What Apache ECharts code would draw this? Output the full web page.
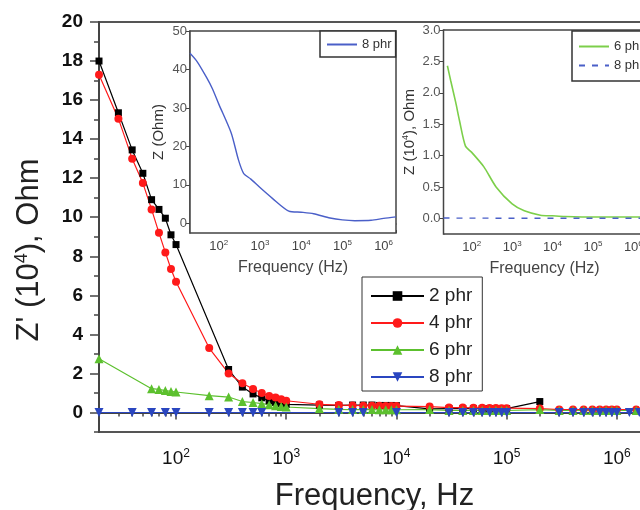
<!DOCTYPE html>
<html><head><meta charset="utf-8">
<script src="https://cdn.jsdelivr.net/npm/echarts@6/dist/echarts.min.js"></script>
<style>html,body{margin:0;padding:0;background:#fff}#c{width:640px;height:510px}</style>
</head><body><div id="c"></div><script>
// ---- main plot data (Z' in 10^4 Ohm vs frequency in Hz) ----
const freq2 = [20,30,40,50,60,70,80,90,100,300,400,500,600,700,800,900,1000,2000,3000,4000,5000,6000,7000,8000,9000,10000,20000,30000,40000,50000,60000,70000,80000,90000,100000,200000];
const z2 = [18.0,15.35,13.45,12.25,10.9,10.4,9.95,9.1,8.6,2.2,1.3,0.95,0.75,0.6,0.52,0.46,0.42,0.38,0.36,0.38,0.38,0.38,0.36,0.36,0.36,0.35,0.18,0.2,0.2,0.2,0.2,0.2,0.2,0.2,0.2,0.56];
const freq4 = [20,30,40,50,60,70,80,90,100,200,300,400,500,600,700,800,900,1000,2000,3000,4000,5000,6000,7000,8000,9000,10000,20000,30000,40000,50000,60000,70000,80000,90000,100000,200000,300000,400000,500000,600000,700000,800000,900000,1000000,1500000,2000000];
const z4 = [17.3,15.05,13.0,11.75,10.4,9.2,8.2,7.35,6.7,3.3,2.0,1.5,1.2,1.0,0.85,0.77,0.68,0.6,0.42,0.38,0.36,0.35,0.34,0.34,0.33,0.33,0.33,0.3,0.25,0.25,0.24,0.24,0.23,0.23,0.22,0.22,0.2,0.15,0.15,0.15,0.15,0.15,0.15,0.15,0.15,0.15,0.15];
const freq6 = [20,60,70,80,90,100,200,300,400,500,600,700,800,900,1000,2000,3000,4000,5000,6000,7000,8000,9000,10000,20000,30000,40000,50000,60000,70000,80000,90000,100000,200000,300000,400000,500000,600000,700000,800000,900000,1000000,1500000,2000000];
const z6 = [2.75,1.22,1.18,1.12,1.08,1.05,0.86,0.79,0.56,0.51,0.45,0.4,0.35,0.31,0.28,0.2,0.16,0.15,0.15,0.15,0.14,0.14,0.14,0.14,0.15,0.1,0.1,0.1,0.1,0.1,0.1,0.1,0.1,0.15,0.1,0.1,0.1,0.1,0.1,0.1,0.1,0.1,0.1,0.1];
const freq8 = [20,40,60,80,100,200,300,400,500,600,3000,4000,5000,10000,30000,40000,50000,60000,70000,80000,90000,100000,300000,400000,500000,600000,700000,800000,900000,1000000,1300000,1600000,2000000];
const z8 = [0,0,0,0,0,0,0,0,0,0,0,0,0,0,0,0,0,0,0,0,0,0,0,0,0,0,0,0,0,0,0,0,0];
const seriesNames = ['2 phr','4 phr','6 phr','8 phr'];

// ---- inset 1: 8 phr, Z in Ohm ----
const freqIn1 = [20,30,50,70,100,200,300,400,600,1000,2000,5000,10000,20000,50000,100000,200000,500000,1000000,2000000];
const zIn1 = [44.2,42,38,35,31,23.5,16.5,13,11.5,9.3,6.5,3.2,2.9,2.5,1.4,0.9,0.7,0.8,1.3,1.7];

// ---- inset 2: 6 phr and 8 phr, Z in 10^4 Ohm ----
const freqIn2g = [25,30,40,50,70,100,200,400,1000,2000,5000,10000,20000,100000,1000000,2000000];
const zIn2g = [2.43,2.2,1.85,1.55,1.15,1.05,0.82,0.5,0.23,0.12,0.05,0.04,0.03,0.02,0.02,0.02];
const freqIn2b = [20,100,1000,10000,100000,1000000,2000000];
const zIn2b = [0.004,0.003,0.001,0.0003,0.0001,0.0001,0.0002];

// ---- tick labels ----
const xMajor = [100,1000,10000,100000,1000000];
const yMainLabels = [0,2,4,6,8,10,12,14,16,18,20];
const yMainMinor = [-1,1,3,5,7,9,11,13,15,17,19];
const yIn1Labels = [0,10,20,30,40,50];
const yIn2Labels = [0,0.5,1,1.5,2,2.5,3];

const xMinor = [];
for (let d = 10; d <= 1000000; d *= 10) for (let k = 2; k <= 9; k++) { const v = k*d; if (v >= 20 && v <= 2000000) xMinor.push(v); }
xMinor.push(2000000);

const pairs = (f, z) => f.map((x, i) => [x, z[i]]);
const expFmt = v => '{b|10}{s|' + Math.round(Math.log10(v)) + '}';

const AX = '#444';
const NARROW = '"Liberation Sans Narrow","Liberation Sans",Arial,sans-serif';
const SANS = '"Liberation Sans",Arial,sans-serif';

function logX(grid, major, opts) {
  const o = opts;
  return [{
    type: 'log', gridIndex: grid, min: 20, max: 2000000, position: 'bottom',
    axisLine: {show: true, lineStyle: {color: AX, width: o.lw}},
    splitLine: {show: false},
    axisTick: {show: true, inside: o.inside, length: o.major, customValues: major, lineStyle: {color: AX, width: o.tw}},
    axisLabel: {show: true, customValues: major, formatter: expFmt, margin: o.margin,
      rich: {b: {fontSize: o.fs, fontFamily: o.ff, color: o.color},
             s: {fontSize: o.sfs, fontFamily: o.ff, color: o.color, padding: [0, 0, o.sup, 0]}}},
    name: o.name, nameLocation: 'middle', nameGap: o.nameGap,
    nameTextStyle: {fontSize: o.nfs, fontFamily: o.nff, color: o.ncolor}
  }, {
    type: 'log', gridIndex: grid, min: 20, max: 2000000, position: 'bottom',
    axisLine: {show: false}, splitLine: {show: false}, axisLabel: {show: false},
    axisTick: {show: true, inside: o.inside, length: o.minor, customValues: xMinor, lineStyle: {color: AX, width: o.tw}}
  }];
}

const chart = echarts.init(document.getElementById('c'), null, {renderer: 'canvas'});
const xAxes = [].concat(
  logX(0, xMajor, {lw: 2, tw: 1.5, inside: false, major: 7, minor: 4, margin: 16, fs: 19, sfs: 12, sup: 10, ff: SANS, color: '#111',
    name: 'Frequency, Hz', nameGap: 49, nfs: 31, nff: SANS, ncolor: '#222'}),
  logX(1, xMajor, {lw: 1.5, tw: 1, inside: true, major: 5, minor: 3, margin: 6, fs: 13, sfs: 8, sup: 7, ff: NARROW, color: '#444',
    name: 'Frequency (Hz)', nameGap: 27, nfs: 16, nff: NARROW, ncolor: '#444'}),
  logX(2, xMajor, {lw: 1.5, tw: 1, inside: true, major: 5, minor: 3, margin: 6, fs: 13, sfs: 8, sup: 7, ff: NARROW, color: '#444',
    name: 'Frequency (Hz)', nameGap: 27, nfs: 16, nff: NARROW, ncolor: '#444'})
);

const yAxes = [
  {type: 'value', gridIndex: 0, min: -1, max: 20, position: 'left',
   axisLine: {show: true, lineStyle: {color: AX, width: 2}}, splitLine: {show: false},
   axisTick: {show: true, length: 9, customValues: yMainLabels, lineStyle: {color: AX, width: 1.5}},
   axisLabel: {customValues: yMainLabels, fontSize: 19, fontWeight: 'bold', fontFamily: SANS, color: '#111', margin: 16},
   name: "Z' (10{s|4}), Ohm", nameLocation: 'middle', nameGap: 54, nameRotate: 90,
   nameTextStyle: {fontSize: 31, fontFamily: SANS, color: '#222', padding: [0, 46, 0, 0],
     rich: {s: {fontSize: 18, fontFamily: SANS, color: '#222', padding: [0,0,14,0]}}}},
  {type: 'value', gridIndex: 0, min: -1, max: 20, position: 'left',
   axisLine: {show: false}, splitLine: {show: false}, axisLabel: {show: false},
   axisTick: {show: true, length: 5, customValues: yMainMinor, lineStyle: {color: AX, width: 1.5}}},
  {type: 'value', gridIndex: 1, min: -2.5, max: 50, position: 'left',
   axisLine: {show: true, lineStyle: {color: AX, width: 1.5}}, splitLine: {show: false},
   axisTick: {show: true, length: 4, customValues: yIn1Labels, lineStyle: {color: AX}},
   axisLabel: {customValues: yIn1Labels, fontSize: 13, fontFamily: NARROW, color: '#555', margin: 3},
   name: 'Z (Ohm)', nameLocation: 'middle', nameGap: 24, nameRotate: 90,
   nameTextStyle: {fontSize: 15, fontFamily: NARROW, color: '#333'}},
  {type: 'value', gridIndex: 2, min: -0.25, max: 3, position: 'left',
   axisLine: {show: true, lineStyle: {color: AX, width: 1.5}}, splitLine: {show: false},
   axisTick: {show: true, length: 4, customValues: yIn2Labels, lineStyle: {color: AX}},
   axisLabel: {customValues: yIn2Labels, formatter: v => v.toFixed(1), fontSize: 13, fontFamily: NARROW, color: '#555', margin: 3},
   name: 'Z (10{s|4}), Ohm', nameLocation: 'middle', nameGap: 26, nameRotate: 90,
   nameTextStyle: {fontSize: 15, fontFamily: NARROW, color: '#333', rich: {s: {fontSize: 9, fontFamily: NARROW, color: '#333', padding: [0,0,7,0]}}}}
];

const mainStyles = [
  {color: '#000000', symbol: 'rect', size: 7, rot: 0},
  {color: '#ff1a1a', symbol: 'circle', size: 8, rot: 0},
  {color: '#5cc02e', symbol: 'triangle', size: 9, rot: 0},
  {color: '#2a46c0', symbol: 'triangle', size: 9, rot: 180}
];
const mainData = [pairs(freq2, z2), pairs(freq4, z4), pairs(freq6, z6), pairs(freq8, z8)];

const series = mainData.map((d, i) => ({
  type: 'line', name: seriesNames[i], xAxisIndex: 0, yAxisIndex: 0, data: d,
  symbol: mainStyles[i].symbol, symbolSize: mainStyles[i].size, symbolRotate: mainStyles[i].rot,
  showAllSymbol: true, animation: false,
  itemStyle: {color: mainStyles[i].color}, lineStyle: {color: mainStyles[i].color, width: 1.2}
}));
series.push({type: 'line', name: '8 phr ', xAxisIndex: 2, yAxisIndex: 2, data: pairs(freqIn1, zIn1), showSymbol: false, symbol: 'none', smooth: 0.25, animation: false,
  lineStyle: {color: '#4a5fc8', width: 1.4}, itemStyle: {color: '#4a5fc8'}});
series.push({type: 'line', name: '6 phr ', xAxisIndex: 4, yAxisIndex: 3, data: pairs(freqIn2g, zIn2g), showSymbol: false, symbol: 'none', smooth: 0.25, animation: false,
  lineStyle: {color: '#7ccf4a', width: 1.6}, itemStyle: {color: '#7ccf4a'}});
series.push({type: 'line', name: '8 phr  ', xAxisIndex: 4, yAxisIndex: 3, data: pairs(freqIn2b, zIn2b), showSymbol: false, symbol: 'none', animation: false,
  lineStyle: {color: '#4a5fc8', width: 1.4, type: [6, 7]}, itemStyle: {color: '#4a5fc8'}});

chart.setOption({
  animation: false,
  backgroundColor: '#ffffff',
  grid: [
    {left: 99, top: 22, right: -10, bottom: 78, show: true, borderColor: '#555', borderWidth: 2, outerBoundsMode: 'none', containLabel: false},
    {left: 190, top: 31, right: 244, bottom: 277, show: true, borderColor: '#444', borderWidth: 1.5, backgroundColor: '#fff', z: 3, outerBoundsMode: 'none', containLabel: false},
    {left: 443.5, top: 30, right: -5.5, bottom: 276, show: true, borderColor: '#444', borderWidth: 1.5, backgroundColor: '#fff', z: 3, outerBoundsMode: 'none', containLabel: false}
  ],
  xAxis: xAxes,
  yAxis: yAxes,
  legend: [
    {data: seriesNames, orient: 'vertical', left: 362, top: 277, padding: [9, 10, 4, 8], itemGap: 7,
     itemWidth: 53, itemHeight: 12, borderColor: '#333', borderWidth: 1, backgroundColor: '#fff',
     textStyle: {fontSize: 19, fontFamily: SANS, color: '#222', lineHeight: 20}},
    {data: [{name: '8 phr ', itemStyle: {opacity: 0}}], orient: 'vertical', left: 320, top: 31, padding: [7, 4, 6, 6], itemWidth: 30, itemHeight: 8,
     borderColor: '#333', borderWidth: 1.5, backgroundColor: '#fff', formatter: n => n.trim(),
     textStyle: {fontSize: 13, fontFamily: NARROW, color: '#333'}},
    {data: [{name: '6 phr ', itemStyle: {opacity: 0}}, {name: '8 phr  ', itemStyle: {opacity: 0}}], orient: 'vertical', left: 572, top: 31, padding: [9, 30, 9, 6], itemGap: 6, itemWidth: 30, itemHeight: 8,
     borderColor: '#333', borderWidth: 1.5, backgroundColor: '#fff', formatter: n => n.trim(),
     textStyle: {fontSize: 13, fontFamily: NARROW, color: '#333'}}
  ],
  series: series
});
</script></body></html>
